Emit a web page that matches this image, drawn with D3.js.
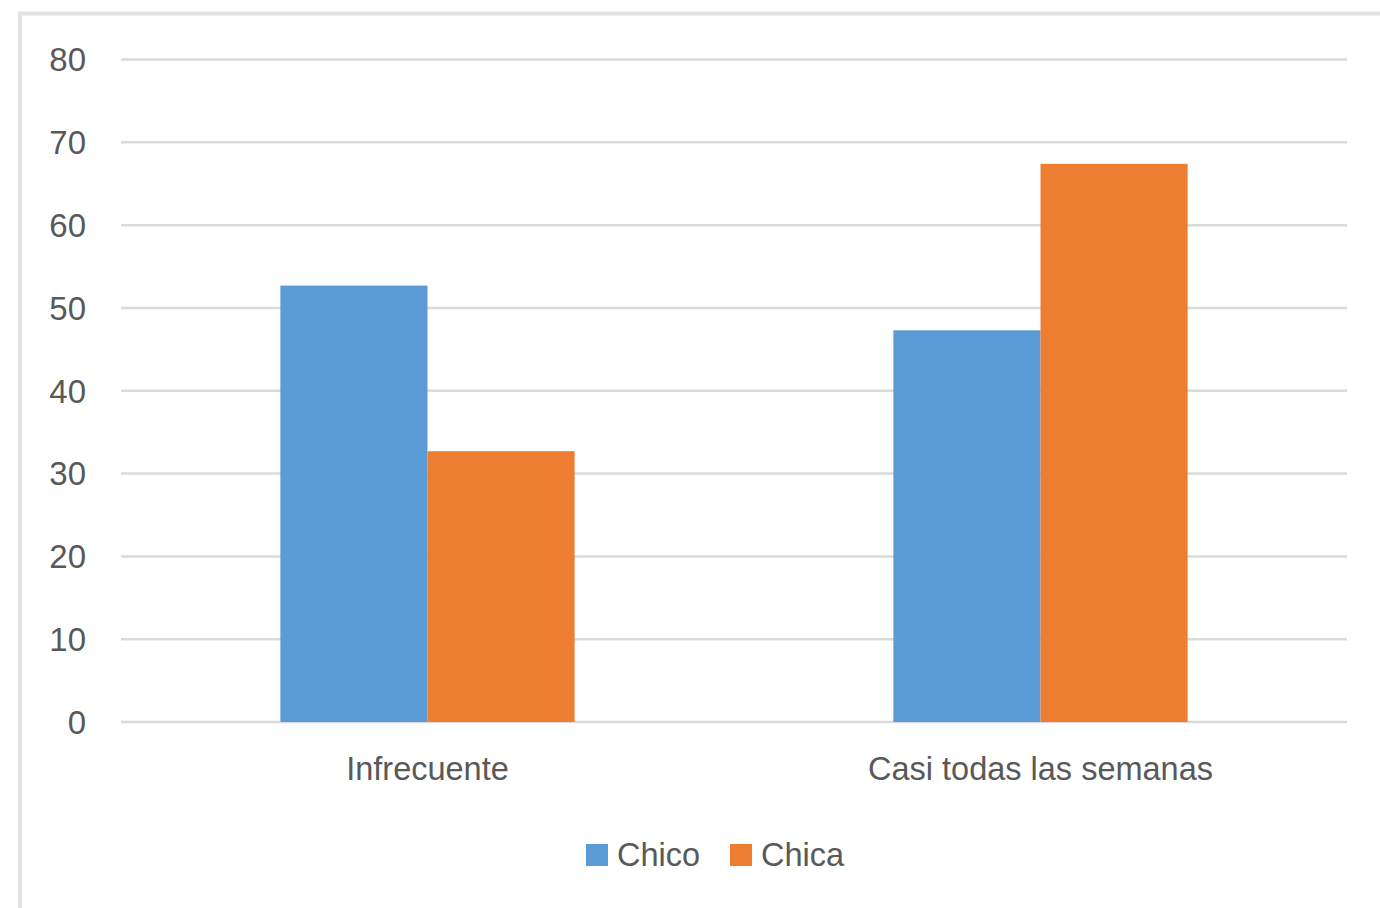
<!DOCTYPE html>
<html>
<head>
<meta charset="utf-8">
<script src="https://cdn.jsdelivr.net/npm/d3@7"></script>
<style>
  html, body { margin: 0; padding: 0; background: #fff; }
  svg { display: block; font-family: "Liberation Sans", Arial, sans-serif; }
</style>
</head>
<body>
<div id="chart"></div>
<script>
// data
const categories = ["Infrecuente", "Casi todas las semanas"];
const seriesNames = ["Chico", "Chica"];
const chicoValues = [52.7, 47.3];
const chicaValues = [32.7, 67.4];
const yTicks = [0, 10, 20, 30, 40, 50, 60, 70, 80];
const colors = ["#5B9BD5", "#ED7D31"];

const width = 1380;
const height = 908;
const plot = {left: 121, right: 1347, top: 59.5, bottom: 722};
const textColor = "#595959";

const svg = d3.select("#chart").append("svg")
    .attr("width", width)
    .attr("height", height);

// light outer frame (only top and left visible)
svg.append("rect")
    .attr("x", 20)
    .attr("y", 13.5)
    .attr("width", width)
    .attr("height", height)
    .attr("fill", "none")
    .attr("stroke", "#e2e2e2")
    .attr("stroke-width", 4);

const y = d3.scaleLinear()
    .domain([0, 80])
    .range([plot.bottom, plot.top]);

const x0 = d3.scaleBand()
    .domain(categories)
    .range([plot.left, plot.right]);

// bar group takes about 48% of each category slot
const groupWidth = x0.bandwidth() * 0.48;
const x1 = d3.scaleBand()
    .domain(seriesNames)
    .range([0, groupWidth]);

// gridlines
svg.append("g")
    .selectAll("line")
    .data(yTicks)
    .join("line")
    .attr("x1", plot.left)
    .attr("x2", plot.right)
    .attr("y1", d => y(d))
    .attr("y2", d => y(d))
    .attr("stroke", "#dadada")
    .attr("stroke-width", 2.5);

// y tick labels
svg.append("g")
    .attr("text-anchor", "end")
    .attr("fill", textColor)
    .style("font-size", "33px")
    .selectAll("text")
    .data(yTicks)
    .join("text")
    .attr("x", 86)
    .attr("y", d => y(d))
    .attr("dy", "0.36em")
    .text(d => d);

const rows = categories.map((c, i) => ({
    category: c,
    values: [chicoValues[i], chicaValues[i]]
}));

// bars
const group = svg.append("g")
    .selectAll("g")
    .data(rows)
    .join("g")
    .attr("transform", d => `translate(${x0(d.category) + (x0.bandwidth() - groupWidth) / 2},0)`);

group.selectAll("rect")
    .data(d => d.values.map((v, i) => ({name: seriesNames[i], value: v, color: colors[i]})))
    .join("rect")
    .attr("x", d => x1(d.name))
    .attr("width", x1.bandwidth())
    .attr("y", d => y(d.value))
    .attr("height", d => y(0) - y(d.value))
    .attr("fill", d => d.color);

// category labels
svg.append("g")
    .attr("text-anchor", "middle")
    .attr("fill", textColor)
    .style("font-size", "32.5px")
    .selectAll("text")
    .data(categories)
    .join("text")
    .attr("x", d => x0(d) + x0.bandwidth() / 2)
    .attr("y", 780)
    .text(d => d);

// legend
const legendX = [586, 730];
const legend = svg.append("g")
    .selectAll("g")
    .data(seriesNames)
    .join("g")
    .attr("transform", (d, i) => `translate(${legendX[i]},844)`);

legend.append("rect")
    .attr("width", 22)
    .attr("height", 22)
    .attr("fill", (d, i) => colors[i]);

legend.append("text")
    .attr("x", 31)
    .attr("y", 22)
    .attr("fill", textColor)
    .style("font-size", "32.5px")
    .text(d => d);
</script>
</body>
</html>
